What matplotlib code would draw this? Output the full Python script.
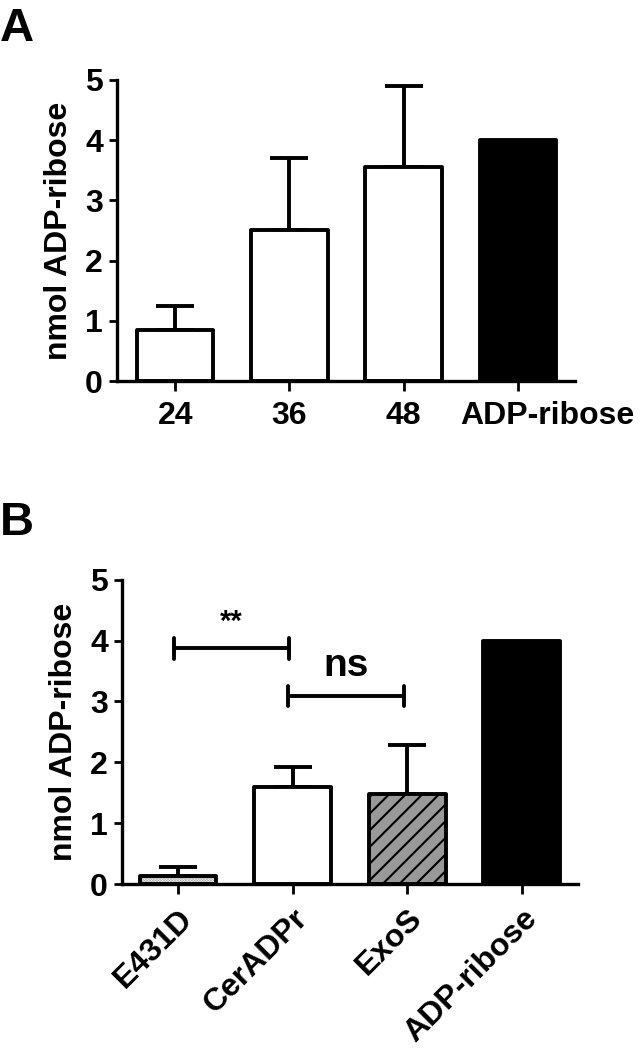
import matplotlib
matplotlib.use("Agg")
import matplotlib.pyplot as plt
import matplotlib.transforms as mtransforms
import numpy as np

plt.rcParams['font.family'] = ['Liberation Sans', 'DejaVu Sans']
plt.rcParams['font.weight'] = 'bold'
plt.rcParams['hatch.linewidth'] = 1.5

# ---- Panel A data ----
a_categories = ["24", "36", "48", "ADP-ribose"]
a_values = [0.85, 2.5, 3.55, 4.0]
a_errors = [0.40, 1.2, 1.35, None]

# ---- Panel B data ----
b_categories = ["E431D", "CerADPr", "ExoS", "ADP-ribose"]
b_values = [0.13, 1.6, 1.48, 4.0]
b_errors = [0.15, 0.32, 0.81, None]
b_sig = [("**", 0, 1, 3.87), ("ns", 1, 2, 3.09)]

yticks = [0, 1, 2, 3, 4, 5]
ylabel = "nmol ADP-ribose"

LW = 2.8
FS = 23

fig = plt.figure(figsize=(6.42, 10.5), dpi=100)


def style_axes(ax):
    for s in ["top", "right"]:
        ax.spines[s].set_visible(False)
    for s in ["left", "bottom"]:
        ax.spines[s].set_linewidth(2.4)
    ax.set_ylim(0, 5)
    ax.set_yticks(yticks)
    ax.tick_params(axis='y', length=6, width=2.0, pad=4, labelsize=FS)
    ax.tick_params(axis='x', length=7, width=2.0, pad=7, labelsize=FS)
    ax.set_ylabel(ylabel, fontsize=FS, fontweight='bold', labelpad=8)


def draw_errors(ax, x, vals, errs):
    for xi, v, e in zip(x, vals, errs):
        if e is None:
            continue
        ax.errorbar([xi], [v], yerr=[[0], [e]], fmt='none', ecolor='black',
                    elinewidth=LW, capsize=14, capthick=LW, zorder=1)


# ---- Panel A ----
axA = fig.add_axes([0.182, 0.637, 0.714, 0.287])
xA = np.arange(len(a_categories))
colorsA = ['white', 'white', 'white', 'black']
axA.bar(xA, a_values, width=0.67, color=colorsA, edgecolor='black',
        linewidth=LW, zorder=2, joinstyle='round')
draw_errors(axA, xA, a_values, a_errors)
axA.set_xlim(-0.51, 3.5)
axA.set_xticks(xA)
axA.set_xticklabels(a_categories)
style_axes(axA)
# last label sits shifted to the right in the original
lab = axA.get_xticklabels()[-1]
lab.set_transform(lab.get_transform() +
                  mtransforms.ScaledTranslation(0.29, 0, fig.dpi_scale_trans))
fig.text(0.0, 0.993, "A", fontsize=34, fontweight='bold', va='top', ha='left')

# ---- Panel B ----
axB = fig.add_axes([0.190, 0.158, 0.710, 0.290])
xB = np.arange(len(b_categories))
widthB = 0.67
# E431D stipple
axB.bar(xB[0], b_values[0], width=widthB, color='white', edgecolor='#9a9a9a',
        hatch='......', linewidth=0, zorder=2)
axB.bar(xB[0], b_values[0], width=widthB, fill=False, edgecolor='black',
        linewidth=LW, zorder=3, joinstyle='round')
axB.bar(xB[1], b_values[1], width=widthB, color='white', edgecolor='black',
        linewidth=LW, zorder=2, joinstyle='round')
axB.bar(xB[2], b_values[2], width=widthB, color='#999999', edgecolor='black',
        hatch='//', linewidth=LW, zorder=2, joinstyle='round')
axB.bar(xB[3], b_values[3], width=widthB, color='black', edgecolor='black',
        linewidth=LW, zorder=2, joinstyle='round')
draw_errors(axB, xB, b_values, b_errors)

for label, i, j, yv in b_sig:
    x0, x1 = xB[i] - 0.04, xB[j] - 0.03
    axB.plot([x0, x1], [yv, yv], color='black', lw=LW, solid_capstyle='round')
    for xx in (x0, x1):
        axB.plot([xx, xx], [yv - 0.17, yv + 0.17], color='black', lw=LW,
                 solid_capstyle='round')
    if label == "**":
        axB.text((x0 + x1) / 2, yv + 0.2, label, ha='center', va='bottom',
                 fontsize=21, fontweight='bold')
    else:
        axB.text((x0 + x1) / 2, yv + 0.2, label, ha='center', va='bottom',
                 fontsize=28, fontweight='bold')

axB.set_xlim(-0.49, 3.49)
axB.set_xticks(xB)
axB.set_xticklabels(b_categories, rotation=45, ha='right', rotation_mode='anchor')
style_axes(axB)
fig.text(0.0, 0.523, "B", fontsize=34, fontweight='bold', va='top', ha='left')

fig.savefig("out.png", dpi=100)
